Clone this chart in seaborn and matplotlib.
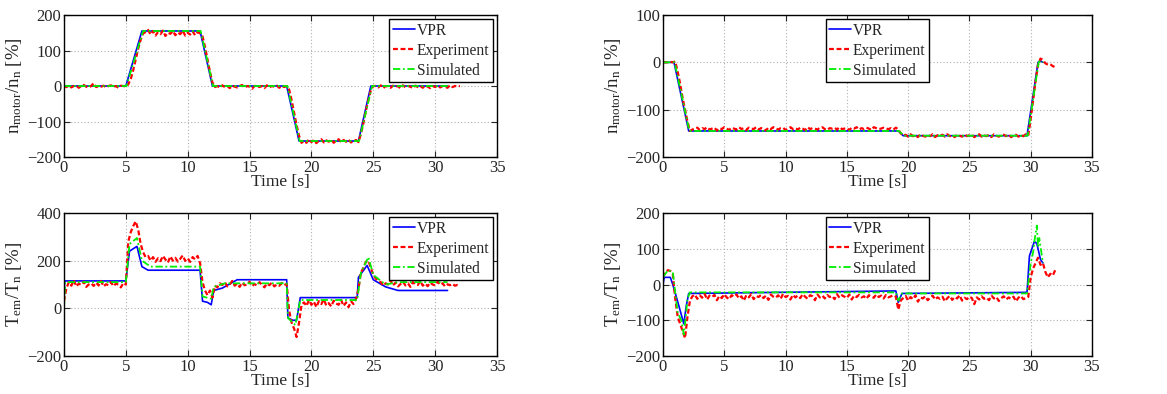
import numpy as np
import pandas as pd
import matplotlib
matplotlib.use("Agg")
import matplotlib.pyplot as plt
import seaborn as sns

# ---------------------------------------------------------------- data
DT = 0.2  # sample step of the measured traces [s]

# Measured traces are stored as segments: (start time [s], samples every DT)

# Speed, run A
speed_a_vpr_t = [0, 5.0, 6.3, 11.0, 12.0, 18.0, 19.0, 23.8, 24.8, 31.0]
speed_a_vpr = [0, 0, 155, 155, 0, 0, -155, -155, 0, 0]
speed_a_sim_t = [0, 5.05, 6.4, 11.05, 12.05, 18.05, 19.05, 23.85, 24.9, 31.0]
speed_a_sim = [0, 0, 155, 155, 0, 0, -155, -155, 0, 0]
speed_a_exp = [
    (0.0, [0, -3, 2, -4, 0, 1, -5, 0, 3, -2, -4, 0, 8, -3, 0, -2, 1, -4, 0, 2, -3, 0, -5, 1, 0, -2]),
    (5.2, [5, 20, 45, 75, 105, 130, 148, 152, 158]),
    (7.0, [145, 155, 142, 152, 146, 156, 141, 150, 147, 155, 143, 151, 146, 156, 142, 150, 145, 154,
           143, 152, 148]),
    (11.2, [140, 110, 75, 40, 10, -3]),
    (12.4, [0, -5, 2, -3, 0, -6, 1, -2, -4, 0, 3, -5, 0, -2, -8, 0, 1, -3, 0, -6, 2, -4, 0, -2, 1,
            -5, 0, -3, 0]),
    (18.2, [-10, -40, -75, -110, -140, -160]),
    (19.4, [-155, -160, -150, -158, -152, -161, -154, -150, -159, -153, -157, -151, -160, -154,
            -150, -158, -152, -157, -151, -159, -155, -152, -158]),
    (24.0, [-135, -105, -70, -40, -12, 0]),
    (25.2, [0, -4, 2, -6, 0, -2, -5, 1, -3, 0, -7, 2, -4, 0, -2, -6, 1, -3, 0, -5, 2, -2, -6, 0,
            -3, 1, -4, 0, -2, -5, 2, -3, 0, -1, 0]),
]

# Speed, run B
speed_b_vpr_t = [0, 0.9, 2.1, 19.2, 19.6, 29.7, 30.6, 30.8, 31.0]
speed_b_vpr = [0, 0, -145, -145, -155, -155, 0, 3, 0]
speed_b_sim_t = [0, 0.95, 2.15, 19.25, 19.65, 29.75, 30.65, 30.85, 31.0]
speed_b_sim = [0, 0, -145, -145, -155, -155, 0, 4, 0]
speed_b_exp = [
    (0.0, [0, 0, 0, 1, 0, 2]),
    (1.2, [-20, -45, -75, -100, -125, -145, -142]),
    (2.6, [-140, -138, -143, -139, -141, -137, -142, -140, -138, -144, -139, -141, -137, -140,
           -143, -138, -140, -142, -137, -141, -139, -143, -138, -140, -141, -137, -142, -139,
           -140, -144, -138, -141, -137, -140, -142, -139, -138, -143, -140, -137, -141, -139,
           -142, -138, -140, -143, -137, -141, -139, -140, -142, -138, -137, -141, -143, -139,
           -140, -138, -142, -137, -141, -140, -139, -143, -138, -140, -137, -142, -139, -141,
           -138, -140, -143, -137, -139, -141, -140, -138, -140, -141, -139, -142, -138]),
    (19.2, [-142, -150, -155]),
    (19.8, [-153, -157, -152, -156, -154, -158, -152, -155, -157, -153, -156, -152, -158, -154,
            -155, -153, -157, -152, -156, -154, -158, -153, -155, -157, -152, -156, -154, -153,
            -158, -155, -152, -157, -154, -156, -153, -158, -152, -155, -157, -154, -153, -156,
            -152, -158, -155, -153, -157, -154, -156, -152, -155]),
    (30.0, [-120, -80, -40, -5, 8, 5]),
    (31.2, [-2, -5, -4, -8, -10]),
]

# Torque, run A
torque_a_vpr_t = [0, 0.05, 5.0, 5.3, 5.9, 6.3, 6.8, 11.0, 11.2, 11.6, 11.9, 12.1, 12.8, 14.0,
                  18.0, 18.1, 18.5, 18.8, 19.1, 23.7, 23.8, 24.5, 25.0, 26.0, 27.0, 31.0]
torque_a_vpr = [0, 115, 115, 240, 260, 175, 160, 160, 30, 25, 15, 75, 85, 120,
                120, -40, -50, -50, 45, 45, 130, 180, 120, 90, 75, 75]
torque_a_sim_t = [0, 0.1, 5.0, 5.3, 5.9, 6.3, 7.0, 11.0, 11.2, 11.9, 12.1, 13.0, 18.0, 18.1,
                  18.7, 19.1, 23.7, 24.0, 24.6, 25.0, 26.0, 27.0, 31.0]
torque_a_sim = [0, 110, 110, 270, 295, 200, 175, 175, 50, 40, 90, 105, 105, -40,
                -70, 35, 35, 150, 215, 140, 100, 110, 110]
torque_a_exp = [
    (0.0, [30, 85, 110, 95, 118, 92, 104, 98, 112, 90, 100, 105, 94, 108, 96, 115, 92, 101, 97,
           110, 93, 104, 99, 88, 106, 100]),
    (5.2, [280, 320, 345, 365, 330, 270, 235, 215, 220]),
    (7.0, [200, 215, 195, 210, 198, 220, 205, 192, 218, 200, 212, 196, 208, 222, 199, 210, 195,
           215, 205, 220]),
    (11.0, [190, 110, 75, 55, 75, 45]),
    (12.2, [95, 88, 105, 98, 110, 92, 100, 115, 95, 104, 90, 108, 97, 100, 112, 93, 102, 96, 110,
            99, 88, 104, 97, 108, 92, 100, 95, 106, 98, 102]),
    (18.2, [-10, -60, -85, -120, -60, 15]),
    (19.4, [25, 10, 35, 15, 28, 5, 30, 18, 38, 12, 22, 8, 32, 20, 15, 35, 10, 25, 5, 30, 18, 40]),
    (23.8, [80, 150, 170, 195, 200, 170, 140, 125, 115]),
    (25.6, [110, 95, 105, 100, 118, 97, 108, 92, 102, 112, 96, 105, 90, 110, 100, 98, 115, 95,
            104, 93, 108, 100, 96, 112, 99, 105, 92, 101, 97, 103, 95, 98, 95]),
]

# Torque, run B
torque_b_vpr_t = [0, 0.1, 0.6, 0.8, 1.3, 1.7, 1.9, 2.1, 19.0, 19.2, 19.5, 29.7, 29.9, 30.3,
                  30.5, 30.8, 31.0]
torque_b_vpr = [0, 20, 20, 0, -60, -110, -60, -25, -18, -50, -25, -22, 80, 120, 115, 70, 60]
torque_b_sim_t = [0, 0.4, 0.8, 1.2, 1.5, 1.7, 1.8, 2.0, 2.2, 19.0, 19.2, 19.5, 29.7, 30.0, 30.2,
                  30.3, 30.5, 30.6, 30.7, 31.0]
torque_b_sim = [20, 40, 35, -80, -100, -140, -110, -40, -22, -22, -45, -25, -25, 60, 90, 120,
                165, 105, 130, 60]
torque_b_exp = [
    (0.0, [20, 35, 40, 38, 30]),
    (1.0, [-40, -90, -110, -130, -150, -90, -45]),
    (2.4, [-33, -28, -40, -30, -37, -26, -42, -31, -35, -29, -44, -32, -38, -27, -36, -41, -30,
           -34, -28, -39, -33, -45, -30, -36, -27, -41, -32, -35, -29, -38, -31, -43, -28, -34,
           -37, -30, -40, -26, -35, -32, -42, -29, -36, -31, -38, -27, -34, -40, -30, -33, -44,
           -28, -36, -31, -39, -29, -35, -32, -41, -27, -37, -30, -34, -38, -28, -42, -31, -35,
           -29, -36, -33, -40, -30, -34, -37, -28, -35, -31, -39, -29, -36, -33, -30, -34]),
    (19.2, [-70, -45]),
    (19.6, [-38, -32, -45, -35, -41, -30, -48, -36, -39, -33, -44, -37, -31, -42, -36, -40, -34,
            -47, -38, -32, -43, -35, -39, -30, -45, -37, -41, -34, -38, -55, -36, -42, -33, -40,
            -37, -44, -31, -39, -35, -46, -38, -33, -42, -36, -40, -34, -47, -37, -32, -41, -38]),
    (29.8, [-35, 20, 45, 60, 75, 55, 60, 35, 20]),
    (31.6, [30, 25, 40]),
]

# ---------------------------------------------------------------- style
sns.set_style("ticks")
plt.rcParams["font.family"] = ["Liberation Serif", "DejaVu Serif"]
plt.rcParams["mathtext.fontset"] = "custom"
plt.rcParams["mathtext.rm"] = "Liberation Serif"
plt.rcParams["mathtext.it"] = "Liberation Serif:italic"
plt.rcParams["font.size"] = 12

C_VPR = "#0000ff"
C_EXP = "#ff0000"
C_SIM = "#00ee00"


def segments_to_frame(segments):
    t, v = [], []
    for t0, vals in segments:
        t.extend(t0 + DT * np.arange(len(vals)))
        v.extend(vals)
    return pd.DataFrame({"t": t, "v": v})


fig = plt.figure(figsize=(11.67, 3.94), dpi=100)
positions = [
    [0.0548, 0.6015, 0.3711, 0.3604],
    [0.5681, 0.6015, 0.3676, 0.3604],
    [0.0548, 0.0964, 0.3711, 0.3630],
    [0.5681, 0.0964, 0.3676, 0.3630],
]

speed_label = r"n$_{\rm motor}$/n$_{\rm n}$ [%]"
torque_label = r"T$_{\rm em}$/T$_{\rm n}$ [%]"

panels = [
    (speed_a_vpr_t, speed_a_vpr, speed_a_exp, speed_a_sim_t, speed_a_sim,
     (-200, 200), [-200, -100, 0, 100, 200], speed_label, "upper right"),
    (speed_b_vpr_t, speed_b_vpr, speed_b_exp, speed_b_sim_t, speed_b_sim,
     (-200, 100), [-200, -100, 0, 100], speed_label, "upper center"),
    (torque_a_vpr_t, torque_a_vpr, torque_a_exp, torque_a_sim_t, torque_a_sim,
     (-200, 400), [-200, 0, 200, 400], torque_label, "upper right"),
    (torque_b_vpr_t, torque_b_vpr, torque_b_exp, torque_b_sim_t, torque_b_sim,
     (-200, 200), [-200, -100, 0, 100, 200], torque_label, "upper center"),
]

for pos, (vt, vv, exp_segs, st, sv, ylim, yticks, ylabel, loc) in zip(positions, panels):
    ax = fig.add_axes(pos)
    df_v = pd.DataFrame({"t": vt, "v": vv})
    df_e = segments_to_frame(exp_segs)
    df_s = pd.DataFrame({"t": st, "v": sv})
    sns.lineplot(data=df_v, x="t", y="v", ax=ax, color=C_VPR, lw=1.2,
                 estimator=None, sort=False, label="VPR")
    sns.lineplot(data=df_e, x="t", y="v", ax=ax, color=C_EXP, lw=1.6,
                 estimator=None, sort=False, label="Experiment")
    ax.lines[-1].set_linestyle((0, (2.2, 1.2)))
    sns.lineplot(data=df_s, x="t", y="v", ax=ax, color=C_SIM, lw=1.3,
                 estimator=None, sort=False, label="Simulated")
    ax.lines[-1].set_linestyle((0, (4, 1.5, 1, 1.5)))

    ax.set_xlim(0, 35)
    ax.set_ylim(*ylim)
    ax.set_xticks([0, 5, 10, 15, 20, 25, 30, 35])
    ax.set_yticks(yticks)
    ax.set_yticklabels([f"{y}".replace("-", "\u2212") for y in yticks])
    ax.set_xlabel("Time [s]", labelpad=-1, fontsize=12.5)
    ax.set_ylabel(ylabel, labelpad=2, fontsize=13.5)
    ax.grid(True, color="#b0b0b0", linestyle=(0, (1, 2)), linewidth=0.8)
    ax.tick_params(direction="in", top=True, right=True, length=4, width=0.8,
                   labelsize=12, pad=2)
    for sp in ax.spines.values():
        sp.set_linewidth(1.0)
        sp.set_color("black")
    leg = ax.legend(loc=loc, fontsize=11.2, frameon=True, fancybox=False,
                    edgecolor="black", framealpha=1, handlelength=1.4,
                    handletextpad=0.1, borderpad=0.25, labelspacing=0.25,
                    borderaxespad=0.25)
    leg.get_frame().set_linewidth(1.0)

fig.savefig("out.png", dpi=100)
